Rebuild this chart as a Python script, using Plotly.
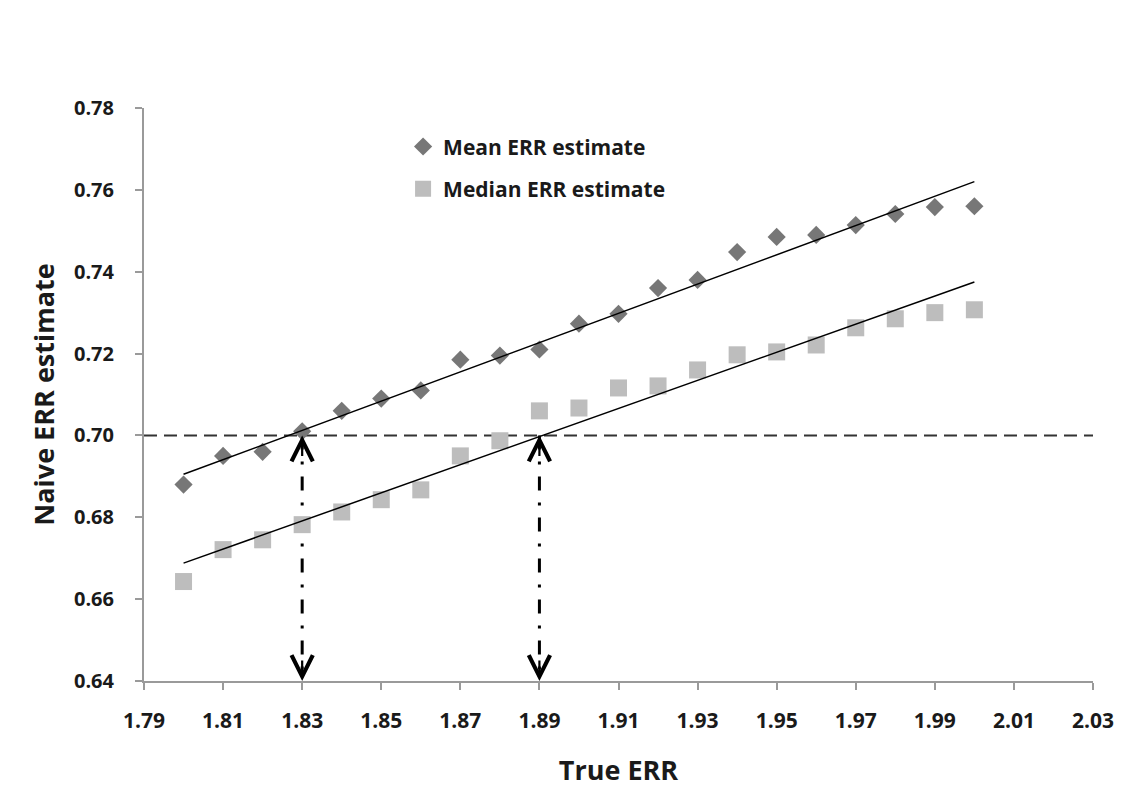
import plotly.graph_objects as go

true_err = [1.80, 1.81, 1.82, 1.83, 1.84, 1.85, 1.86, 1.87, 1.88, 1.89, 1.90,
            1.91, 1.92, 1.93, 1.94, 1.95, 1.96, 1.97, 1.98, 1.99, 2.00]
mean_est = [0.688, 0.695, 0.696, 0.701, 0.706, 0.709, 0.711, 0.7185, 0.7195, 0.721, 0.7273,
            0.7297, 0.736, 0.738, 0.7448, 0.7485, 0.749, 0.7514, 0.7541, 0.7558, 0.756]
median_est = [0.6643, 0.6721, 0.6745, 0.6782, 0.6813, 0.6843, 0.6867, 0.695, 0.6987, 0.706, 0.7067,
              0.7116, 0.7121, 0.716, 0.7197, 0.7204, 0.7221, 0.7263, 0.7285, 0.730, 0.7307]

trend_x = [1.80, 2.00]
mean_trend = [0.6905, 0.7620]
median_trend = [0.6688, 0.7375]

threshold = 0.70
threshold_x = [1.79, 2.03]
cross_x = [1.83, 1.89]

x_ticks = [1.79, 1.81, 1.83, 1.85, 1.87, 1.89, 1.91, 1.93, 1.95, 1.97, 1.99, 2.01, 2.03]
y_ticks = [0.64, 0.66, 0.68, 0.70, 0.72, 0.74, 0.76, 0.78]

FONT = "Open Sans"
TXT = "#1a1a1a"

fig = go.Figure()

# horizontal dashed threshold line
fig.add_trace(go.Scatter(x=threshold_x, y=[threshold, threshold], mode="lines",
                         line=dict(color="#333333", width=2, dash="13px,7px"),
                         showlegend=False, hoverinfo="skip"))

# vertical dash-dot lines
for cx in cross_x:
    fig.add_trace(go.Scatter(x=[cx, cx], y=[threshold, y_ticks[0]], mode="lines",
                             line=dict(color="#000000", width=3, dash="14px,12px,3px,12px"),
                             showlegend=False, hoverinfo="skip"))

fig.add_trace(go.Scatter(x=true_err, y=mean_est, mode="markers", name="Mean ERR estimate",
                         marker=dict(symbol="diamond", size=14, color="#777777"),
                         legendgroup="a"))
fig.add_trace(go.Scatter(x=true_err, y=median_est, mode="markers", name="Median ERR estimate",
                         marker=dict(symbol="square", size=17, color="#bdbdbd"),
                         legendgroup="b"))

fig.add_trace(go.Scatter(x=trend_x, y=mean_trend, mode="lines",
                         line=dict(color="#000000", width=1.5),
                         showlegend=False, hoverinfo="skip"))
fig.add_trace(go.Scatter(x=trend_x, y=median_trend, mode="lines",
                         line=dict(color="#000000", width=1.5),
                         showlegend=False, hoverinfo="skip"))

# arrowheads
for cx in cross_x:
    fig.add_annotation(x=cx, y=threshold, ax=0, ay=22, xref="x", yref="y", text="",
                       showarrow=True, arrowhead=5, arrowwidth=2.2, arrowsize=1.9,
                       arrowcolor="#000000")
    fig.add_annotation(x=cx, y=y_ticks[0], ax=0, ay=-22, xref="x", yref="y", text="",
                       showarrow=True, arrowhead=5, arrowwidth=2.2, arrowsize=1.9,
                       arrowcolor="#000000")

fig.update_layout(
    width=1137, height=788,
    margin=dict(l=136, r=52, t=100, b=115),
    paper_bgcolor="white", plot_bgcolor="white",
    font=dict(family=FONT, color=TXT),
    legend=dict(x=0.273, y=0.968, xanchor="left", yanchor="top",
                font=dict(family=FONT, size=21, color=TXT, weight="bold"),
                bgcolor="rgba(0,0,0,0)", tracegroupgap=12, itemwidth=30),
    xaxis=dict(range=[1.79, 2.03], tickvals=x_ticks, tickformat=".2f",
               showgrid=False, zeroline=False, showline=True, linecolor="#9a9a9a", linewidth=2,
               ticks="outside", ticklen=7, tickcolor="#9a9a9a", tickwidth=2,
               tickfont=dict(family=FONT, size=21, color=TXT, weight="bold"),
               ticklabelstandoff=13,
               title=dict(text="True ERR", standoff=28,
                          font=dict(family=FONT, size=27, color=TXT, weight="bold"))),
    yaxis=dict(range=[0.64, 0.78], tickvals=y_ticks, tickformat=".2f",
               showgrid=False, zeroline=False, showline=True, linecolor="#9a9a9a", linewidth=2,
               ticks="outside", ticklen=7, tickcolor="#9a9a9a", tickwidth=2,
               tickfont=dict(family=FONT, size=20, color=TXT, weight="bold"),
               ticklabelstandoff=17,
               title=dict(text="Naive ERR estimate", standoff=12,
                          font=dict(family=FONT, size=27, color=TXT, weight="bold"))),
)

fig.write_html("out.html")
